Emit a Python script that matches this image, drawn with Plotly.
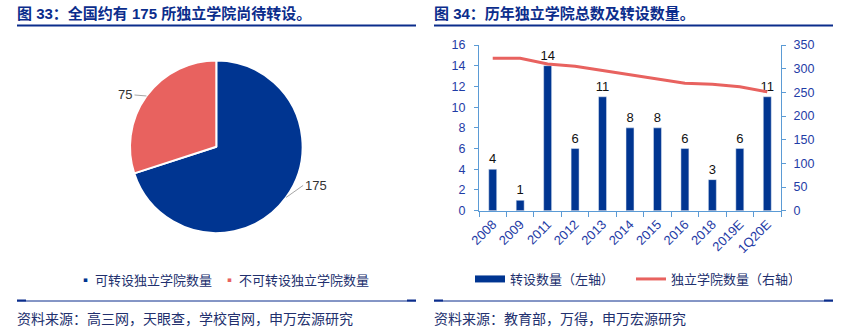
import math
import plotly.graph_objects as go

# ---------------- data ----------------
pie_labels = ["可转设独立学院数量", "不可转设独立学院数量"]
pie_values = [175, 75]

years = ["2008", "2009", "2011", "2012", "2013", "2014", "2015", "2016", "2018", "2019E", "1Q20E"]
converted = [4, 1, 14, 6, 11, 8, 8, 6, 3, 6, 11]
total_colleges = [322, 322, 310, 305, 296, 287, 278, 269, 267, 262, 251]

title_left = "图 33：全国约有 175 所独立学院尚待转设。"
title_right = "图 34：历年独立学院总数及转设数量。"
source_left = "资料来源：高三网，天眼查，学校官网，申万宏源研究"
source_right = "资料来源：教育部，万得，申万宏源研究"
bar_name = "转设数量（左轴）"
line_name = "独立学院数量（右轴）"

# ---------------- style ----------------
W, H = 854, 331
NAVY = "#003591"
RED = "#E8625F"
TITLE_C = "#0B2D8C"
TEXT_C = "#22306E"
AXIS_C = "#5B9BD5"
TICK_C = "#1F3CA6"
CJK = "Noto Sans CJK SC"
LAT = "Liberation Sans"
MIX = "Liberation Sans, Noto Sans CJK SC"


def px(x):
    return x / W


def py(y):
    return 1 - y / H


fig = go.Figure()

# ---------------- pie ----------------
pie_cx, pie_cy, pie_r = 216.3, 146.7, 86.3
fig.add_trace(go.Pie(
    labels=pie_labels, values=pie_values,
    marker=dict(colors=[NAVY, RED], line=dict(color="white", width=2)),
    sort=False, direction="clockwise", rotation=0,
    textinfo="none", hoverinfo="label+value", showlegend=False,
    domain=dict(x=[px(pie_cx - pie_r), px(pie_cx + pie_r)],
                y=[py(pie_cy + pie_r), py(pie_cy - pie_r)]),
))

# pie value labels with leader lines at each slice's mid-angle
total = sum(pie_values)
cum = 0
offsets = [(17, -12), (-12, -1)]
for v, (ax, ay) in zip(pie_values, offsets):
    mid = (cum + v / 2) / total * 2 * math.pi
    cum += v
    ex = pie_cx + pie_r * math.sin(mid)
    ey = pie_cy - pie_r * math.cos(mid)
    fig.add_annotation(
        x=px(ex), y=py(ey), xref="paper", yref="paper",
        text=str(v), showarrow=True, arrowhead=0, arrowwidth=1,
        arrowcolor="#A6A6A6", ax=ax, ay=ay, standoff=0,
        font=dict(family=LAT, size=13, color="#333333"),
        xanchor="left" if ax > 0 else "right",
    )

# ---------------- bar + line ----------------
fig.add_trace(go.Bar(
    x=years, y=converted, name=bar_name, marker_color=NAVY,
    text=[str(v) for v in converted], textposition="outside",
    constraintext="none",
    textfont=dict(family=LAT, size=13, color="#111111"),
    cliponaxis=False, xaxis="x", yaxis="y", showlegend=False,
))
fig.add_trace(go.Scatter(
    x=[None], y=[None], mode="lines", name=bar_name,
    line=dict(color=NAVY, width=7), xaxis="x", yaxis="y", legend="legend",
))
fig.add_trace(go.Scatter(
    x=years, y=total_colleges, mode="lines", name=line_name,
    line=dict(color=RED, width=3), xaxis="x", yaxis="y2", legend="legend",
))

tickfont = dict(family=LAT, size=12.5, color=TICK_C)
fig.update_layout(
    width=W, height=H, margin=dict(l=0, r=0, t=0, b=0, autoexpand=False),
    paper_bgcolor="white", plot_bgcolor="white",
    bargap=0.71,
    xaxis=dict(domain=[px(479), px(781)], type="category", tickangle=-45,
               showline=True, linecolor=AXIS_C, linewidth=1,
               ticks="outside", tickson="boundaries", ticklen=5, tickcolor=AXIS_C,
               tickfont=dict(family=LAT, size=13, color=TICK_C),
               showgrid=False, anchor="y"),
    yaxis=dict(domain=[py(210.7), py(45)], range=[0, 16], dtick=2,
               showline=True, linecolor=AXIS_C, ticks="outside", ticklen=4,
               tickcolor=AXIS_C, tickfont=tickfont, showgrid=False,
               ticklabelstandoff=6, zeroline=False, anchor="x"),
    yaxis2=dict(domain=[py(210.7), py(45)], range=[0, 350], dtick=50,
                overlaying="y", side="right", anchor="x",
                showline=True, linecolor=AXIS_C, ticks="outside", ticklen=4,
                tickcolor=AXIS_C, tickfont=tickfont, showgrid=False,
                ticklabelstandoff=5, zeroline=False),
    legend=dict(orientation="h", x=px(470), y=py(279), xanchor="left",
                yanchor="middle", font=dict(family=CJK, size=13, color=TEXT_C),
                bgcolor="rgba(0,0,0,0)", itemwidth=30, entrywidth=116,
                tracegroupgap=0),
)

# pie legend (custom, small square markers)
fig.add_annotation(x=px(77), y=py(279), xref="paper", yref="paper",
                   xanchor="left", yanchor="middle", showarrow=False,
                   text=f'<span style="color:{NAVY}">▪</span> {pie_labels[0]}',
                   font=dict(family=CJK, size=13, color=TEXT_C))
fig.add_annotation(x=px(221), y=py(279), xref="paper", yref="paper",
                   xanchor="left", yanchor="middle", showarrow=False,
                   text=f'<span style="color:{RED}">▪</span> {pie_labels[1]}',
                   font=dict(family=CJK, size=13, color=TEXT_C))

# titles, rules and sources
for x0, x1, title, src in [(17, 416, title_left, source_left),
                           (434, 833, title_right, source_right)]:
    fig.add_annotation(x=px(x0 - 2), y=py(14), xref="paper", yref="paper",
                       xanchor="left", yanchor="middle", showarrow=False,
                       text=f"<b>{title}</b>",
                       font=dict(family=MIX, size=15, color=TITLE_C))
    fig.add_shape(type="line", xref="paper", yref="paper",
                  x0=px(x0), x1=px(x1), y0=py(25.5), y1=py(25.5),
                  line=dict(color=TITLE_C, width=2))
    fig.add_shape(type="line", xref="paper", yref="paper",
                  x0=px(x0), x1=px(x1), y0=py(301), y1=py(301),
                  line=dict(color=TITLE_C, width=1))
    for a, b in [(x0, x0 + 9), (x1 - 9, x1)]:
        fig.add_shape(type="line", xref="paper", yref="paper",
                      x0=px(a), x1=px(b), y0=py(300.5), y1=py(300.5),
                      line=dict(color=TITLE_C, width=2))
    fig.add_annotation(x=px(x0 - 2), y=py(318), xref="paper", yref="paper",
                       xanchor="left", yanchor="middle", showarrow=False,
                       text=src, font=dict(family=CJK, size=14, color=TEXT_C))

fig.write_html("out.html")
